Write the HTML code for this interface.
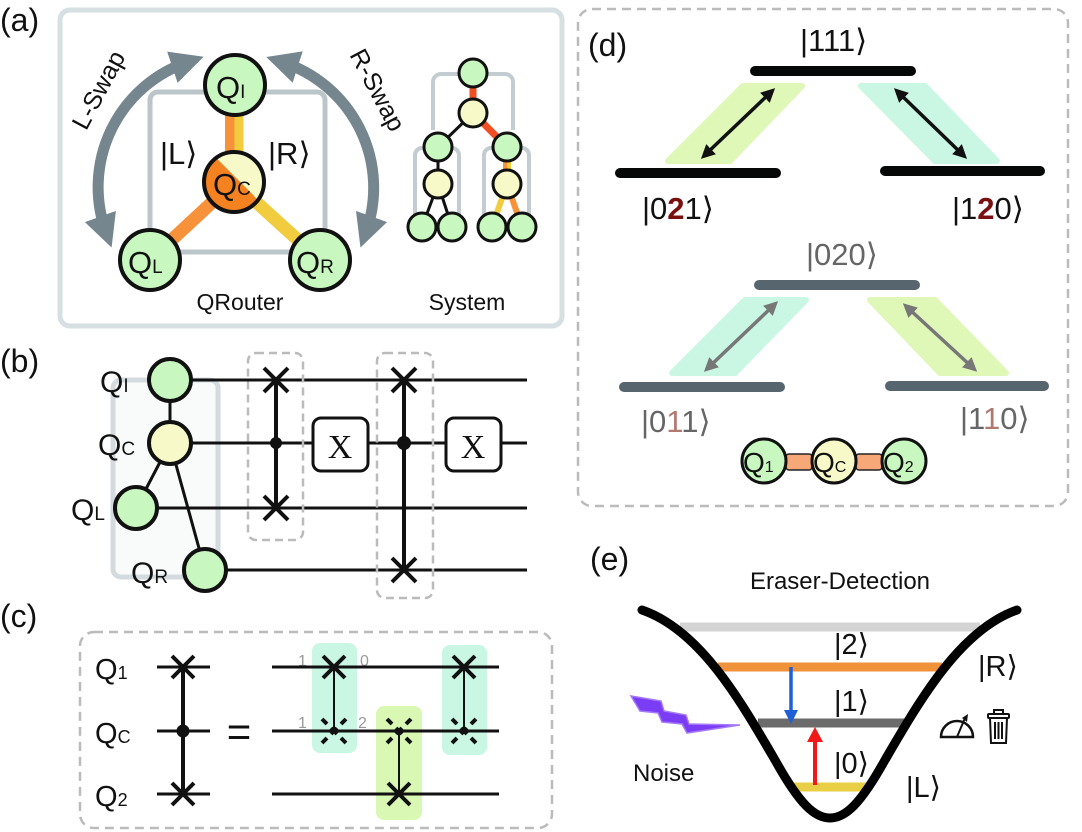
<!DOCTYPE html>
<html><head><meta charset="utf-8"><style>
html,body{margin:0;padding:0;background:#fff;}
svg{display:block;font-family:"Liberation Sans",sans-serif;}
</style></head><body>
<svg width="1082" height="832" viewBox="0 0 1082 832" xmlns="http://www.w3.org/2000/svg">
<defs>
<marker id="ah" markerWidth="3" markerHeight="3" refX="1.5" refY="1.5" orient="auto-start-reverse" markerUnits="strokeWidth"><path d="M0,0 L3,1.5 L0,3 Z" fill="#76868e"/></marker>
<marker id="ab" markerWidth="4" markerHeight="4" refX="2" refY="2" orient="auto-start-reverse" markerUnits="strokeWidth"><path d="M0,0 L4,2 L0,4 Z" fill="#111"/></marker>
<marker id="ag" markerWidth="4" markerHeight="4" refX="2" refY="2" orient="auto-start-reverse" markerUnits="strokeWidth"><path d="M0,0 L4,2 L0,4 Z" fill="#777"/></marker>
<linearGradient id="qc" x1="0" y1="1" x2="1" y2="0"><stop offset="0.55" stop-color="#f58220"/><stop offset="0.55" stop-color="#f7f9c8"/></linearGradient>
</defs>

<!-- panel labels -->
<g font-size="32" fill="#111">
<text x="0" y="31">(a)</text>
<text x="0" y="372">(b)</text>
<text x="0" y="627">(c)</text>
<text x="588" y="56">(d)</text>
<text x="590" y="570">(e)</text>
</g>

<!-- (a) -->
<rect x="60" y="10" width="502" height="316" rx="10" fill="none" stroke="#d6dfe2" stroke-width="5"/>
<rect x="150" y="92" width="175" height="160" rx="8" fill="none" stroke="#bcc6ca" stroke-width="5"/>
<path d="M188,62 A132,132 0 0 0 106,232" fill="none" stroke="#76868e" stroke-width="11" marker-start="url(#ah)" marker-end="url(#ah)"/>
<path d="M282,62 A132,132 0 0 1 366,232" fill="none" stroke="#76868e" stroke-width="11" marker-start="url(#ah)" marker-end="url(#ah)"/>
<text x="0" y="0" font-size="25" fill="#111" text-anchor="middle" transform="translate(106,94) rotate(-62)">L-Swap</text>
<text x="0" y="0" font-size="25" fill="#111" text-anchor="middle" transform="translate(370,94) rotate(62)">R-Swap</text>
<line x1="230" y1="115" x2="230" y2="155" stroke="#f7923a" stroke-width="10"/>
<line x1="239" y1="115" x2="239" y2="155" stroke="#f2cc3f" stroke-width="9"/>
<line x1="150" y1="260" x2="234" y2="182" stroke="#f7923a" stroke-width="13"/>
<line x1="320" y1="260" x2="234" y2="182" stroke="#f2cc3f" stroke-width="13"/>
<g stroke="#111" stroke-width="4">
<circle cx="235" cy="85" r="30" fill="#c8f7c0"/>
<circle cx="234" cy="182" r="30" fill="url(#qc)"/>
<circle cx="150" cy="260" r="30" fill="#c8f7c0"/>
<circle cx="320" cy="260" r="30" fill="#c8f7c0"/>
</g>
<g fill="#111">
<text x="216" y="98" font-size="31">Q<tspan font-size="19">I</tspan></text>
<text x="213" y="195" font-size="31">Q<tspan font-size="19">C</tspan></text>
<text x="128" y="273" font-size="31">Q<tspan font-size="19">L</tspan></text>
<text x="296" y="273" font-size="31">Q<tspan font-size="19">R</tspan></text>
<text x="160" y="164" font-size="31">|L⟩</text>
<text x="268" y="164" font-size="31">|R⟩</text>
<text x="240" y="310" font-size="23" text-anchor="middle">QRouter</text>
<text x="467" y="310" font-size="23" text-anchor="middle">System</text>
</g>
<g fill="none" stroke="#c3ccd0" stroke-width="4">
<path d="M433,130 V82 a8,8 0 0 1 8,-8 H505 a8,8 0 0 1 8,8 V130"/>
<path d="M415,215 V155 a7,7 0 0 1 7,-7 H452 a7,7 0 0 1 7,7 V215"/>
<path d="M484,215 V155 a7,7 0 0 1 7,-7 H522 a7,7 0 0 1 7,7 V215"/>
</g>
<line x1="473" y1="73" x2="473" y2="113" stroke="#f04e23" stroke-width="7"/>
<line x1="473" y1="113" x2="507" y2="147" stroke="#f04e23" stroke-width="7"/>
<line x1="505" y1="147" x2="505" y2="184" stroke="#f7923a" stroke-width="4"/>
<line x1="509" y1="147" x2="509" y2="184" stroke="#f2cc3f" stroke-width="4"/>
<line x1="507" y1="184" x2="492" y2="227" stroke="#f2cc3f" stroke-width="6"/>
<line x1="507" y1="184" x2="522" y2="227" stroke="#f7923a" stroke-width="6"/>
<g stroke="#111" stroke-width="3">
<line x1="473" y1="113" x2="438" y2="147"/>
<line x1="438" y1="147" x2="438" y2="184"/>
<line x1="438" y1="184" x2="422" y2="227"/>
<line x1="438" y1="184" x2="452" y2="227"/>
<circle cx="473" cy="73" r="14" fill="#c8f7c0"/>
<circle cx="473" cy="113" r="14" fill="#f7f9c8"/>
<circle cx="438" cy="147" r="14" fill="#c8f7c0"/>
<circle cx="507" cy="147" r="14" fill="#c8f7c0"/>
<circle cx="438" cy="184" r="14" fill="#f7f9c8"/>
<circle cx="507" cy="184" r="14" fill="#f7f9c8"/>
<circle cx="422" cy="227" r="14" fill="#c8f7c0"/>
<circle cx="452" cy="227" r="14" fill="#c8f7c0"/>
<circle cx="492" cy="227" r="14" fill="#c8f7c0"/>
<circle cx="522" cy="227" r="14" fill="#c8f7c0"/>
</g>

<!-- (b) -->
<rect x="113" y="380" width="105" height="197" rx="8" fill="#f9fbfb" stroke="#d3dbde" stroke-width="5"/>
<g stroke="#111" stroke-width="3">
<line x1="170" y1="380" x2="527" y2="380"/>
<line x1="170" y1="443" x2="527" y2="443"/>
<line x1="136" y1="508" x2="527" y2="508"/>
<line x1="205" y1="570" x2="527" y2="570"/>
<line x1="170" y1="380" x2="170" y2="443"/>
<line x1="170" y1="443" x2="136" y2="508"/>
<line x1="170" y1="443" x2="205" y2="570"/>
<circle cx="170" cy="380" r="21" fill="#c8f7c0" stroke-width="4"/>
<circle cx="170" cy="443" r="21" fill="#f7f9c8" stroke-width="4"/>
<circle cx="136" cy="508" r="21" fill="#c8f7c0" stroke-width="4"/>
<circle cx="205" cy="570" r="21" fill="#c8f7c0" stroke-width="4"/>
</g>
<g fill="#111">
<text x="100" y="392" font-size="30">Q<tspan font-size="19">I</tspan></text>
<text x="98" y="455" font-size="30">Q<tspan font-size="19">C</tspan></text>
<text x="71" y="520" font-size="30">Q<tspan font-size="19">L</tspan></text>
<text x="131" y="583" font-size="30">Q<tspan font-size="19">R</tspan></text>
</g>
<g fill="none" stroke="#bbb" stroke-width="2.5" stroke-dasharray="8,5">
<rect x="248" y="353" width="55" height="187" rx="8"/>
<rect x="377" y="353" width="56" height="245" rx="8"/>
</g>
<g stroke="#111" stroke-width="4">
<line x1="276" y1="380" x2="276" y2="508"/>
<path d="M264,368 L288,392 M288,368 L264,392"/>
<path d="M264,496 L288,520 M288,496 L264,520"/>
<circle cx="276" cy="443" r="4" fill="#111"/>
<line x1="404" y1="380" x2="404" y2="570"/>
<path d="M392,368 L416,392 M416,368 L392,392"/>
<path d="M392,558 L416,582 M416,558 L392,582"/>
<circle cx="404" cy="443" r="5" fill="#111"/>
<rect x="313" y="418" width="55" height="53" rx="8" fill="#fff" stroke-width="3"/>
<rect x="446" y="418" width="55" height="53" rx="8" fill="#fff" stroke-width="3"/>
</g>
<text x="340" y="458" font-size="34" font-family="Liberation Serif,serif" text-anchor="middle" fill="#111">X</text>
<text x="473" y="458" font-size="34" font-family="Liberation Serif,serif" text-anchor="middle" fill="#111">X</text>

<!-- (c) -->
<rect x="80" y="632" width="472" height="196" rx="14" fill="none" stroke="#bbb" stroke-width="2.5" stroke-dasharray="9,6"/>
<rect x="312" y="643" width="45" height="110" rx="8" fill="#c9f7e3"/>
<rect x="376" y="706" width="46" height="114" rx="8" fill="#d8f8b4"/>
<rect x="442" y="645" width="45" height="110" rx="8" fill="#c9f7e3"/>
<g fill="#111">
<text x="95" y="679" font-size="29">Q<tspan font-size="18">1</tspan></text>
<text x="95" y="743" font-size="29">Q<tspan font-size="18">C</tspan></text>
<text x="95" y="806" font-size="29">Q<tspan font-size="18">2</tspan></text>
<text x="239" y="746" font-size="42" text-anchor="middle">=</text>
</g>
<g fill="#999" font-size="16">
<text x="298" y="666">1</text><text x="360" y="666">0</text>
<text x="298" y="728">1</text><text x="358" y="728">2</text>
</g>
<g stroke="#111" stroke-width="3">
<line x1="157" y1="667" x2="210" y2="667"/>
<line x1="157" y1="731" x2="210" y2="731"/>
<line x1="157" y1="794" x2="210" y2="794"/>
<line x1="272" y1="667" x2="499" y2="667"/>
<line x1="272" y1="731" x2="499" y2="731"/>
<line x1="272" y1="794" x2="499" y2="794"/>
<line x1="183" y1="667" x2="183" y2="794" stroke-width="4"/>
<circle cx="183" cy="731" r="5" fill="#111"/>
<path d="M172,656 L194,678 M194,656 L172,678 M172,783 L194,805 M194,783 L172,805" stroke-width="4"/>
<line x1="334" y1="667" x2="334" y2="731" stroke-width="2"/>
<line x1="399" y1="731" x2="399" y2="794" stroke-width="2"/>
<line x1="464" y1="667" x2="464" y2="731" stroke-width="2"/>
<path d="M323,656 L345,678 M345,656 L323,678 M388,783 L410,805 M410,783 L388,805 M453,656 L475,678 M475,656 L453,678" stroke-width="4"/>
<g stroke-width="4">
<path d="M322,719 L327,724 M341,738 L346,743 M346,719 L341,724 M327,738 L322,743 M331,728 L337,734 M337,728 L331,734"/>
<path d="M387,719 L392,724 M406,738 L411,743 M411,719 L406,724 M392,738 L387,743 M396,728 L402,734 M402,728 L396,734"/>
<path d="M452,719 L457,724 M471,738 L476,743 M476,719 L471,724 M457,738 L452,743 M461,728 L467,734 M467,728 L461,734"/>
</g>
</g>

<!-- (d) -->
<rect x="578" y="9" width="490" height="497" rx="14" fill="none" stroke="#bbb" stroke-width="2.5" stroke-dasharray="9,6"/>
<path d="M743,86 H802 L730,161 H668 Z" fill="#dff8b8" stroke="#dff8b8" stroke-width="6" stroke-linejoin="round"/>
<path d="M861,86 H925 L997,161 H935 Z" fill="#c9f7e3" stroke="#c9f7e3" stroke-width="6" stroke-linejoin="round"/>
<path d="M745,300 H806 L735,373 H672 Z" fill="#c9f7e3" stroke="#c9f7e3" stroke-width="6" stroke-linejoin="round"/>
<path d="M870,300 H935 L1006,373 H940 Z" fill="#dff8b8" stroke="#dff8b8" stroke-width="6" stroke-linejoin="round"/>
<g stroke-linecap="round" stroke-width="10">
<line x1="755" y1="71" x2="911" y2="71" stroke="#050807"/>
<line x1="620" y1="173" x2="776" y2="173" stroke="#050807"/>
<line x1="885" y1="171" x2="1040" y2="171" stroke="#050807"/>
<line x1="759" y1="285" x2="915" y2="285" stroke="#56656e"/>
<line x1="624" y1="387" x2="780" y2="387" stroke="#56656e"/>
<line x1="890" y1="386" x2="1044" y2="386" stroke="#56656e"/>
</g>
<line x1="770" y1="93" x2="706" y2="154" stroke="#111" stroke-width="3.5" marker-start="url(#ab)" marker-end="url(#ab)"/>
<line x1="899" y1="93" x2="962" y2="154" stroke="#111" stroke-width="3.5" marker-start="url(#ab)" marker-end="url(#ab)"/>
<line x1="773" y1="306" x2="709" y2="367" stroke="#777" stroke-width="3.5" marker-start="url(#ag)" marker-end="url(#ag)"/>
<line x1="908" y1="308" x2="972" y2="367" stroke="#777" stroke-width="3.5" marker-start="url(#ag)" marker-end="url(#ag)"/>
<g font-size="31">
<text x="800" y="51" fill="#111">|111⟩</text>
<text x="642" y="219" fill="#111">|0<tspan fill="#7a0f0f" font-weight="bold">2</tspan>1⟩</text>
<text x="952" y="219" fill="#111">|1<tspan fill="#7a0f0f" font-weight="bold">2</tspan>0⟩</text>
<text x="806" y="265" fill="#666">|020⟩</text>
<text x="641" y="432" fill="#666">|0<tspan fill="#b07a70">1</tspan>1⟩</text>
<text x="960" y="429" fill="#666">|1<tspan fill="#b07a70">1</tspan>0⟩</text>
</g>
<rect x="786" y="454" width="26" height="16" rx="3" fill="#f7a878" stroke="#222" stroke-width="1.5"/>
<rect x="856" y="454" width="26" height="16" rx="3" fill="#f7a878" stroke="#222" stroke-width="1.5"/>
<g stroke="#111" stroke-width="3">
<circle cx="764" cy="461" r="22" fill="#c8f7c0"/>
<circle cx="834" cy="461" r="22" fill="#f7f9c8"/>
<circle cx="904" cy="461" r="22" fill="#c8f7c0"/>
</g>
<g fill="#111">
<text x="743" y="472" font-size="28">Q<tspan font-size="16">1</tspan></text>
<text x="813" y="472" font-size="28">Q<tspan font-size="16">C</tspan></text>
<text x="883" y="472" font-size="28">Q<tspan font-size="16">2</tspan></text>
</g>

<!-- (e) -->
<text x="840" y="589" font-size="24" text-anchor="middle" fill="#111">Eraser-Detection</text>
<line x1="680" y1="627" x2="980" y2="627" stroke="#d4d4d4" stroke-width="9"/>
<line x1="718" y1="667" x2="942" y2="667" stroke="#f0923a" stroke-width="9"/>
<line x1="758" y1="723" x2="905" y2="723" stroke="#6b6b6b" stroke-width="9"/>
<line x1="794" y1="787" x2="868" y2="787" stroke="#e8cf45" stroke-width="9"/>
<path d="M642,610 C700,630 740,700 775,760 C800,805 815,818 830,818 C845,818 860,805 885,760 C920,700 960,630 1017,610" fill="none" stroke="#000" stroke-width="9" stroke-linecap="round"/>
<line x1="791" y1="667" x2="791" y2="712" stroke="#1f5fd6" stroke-width="3.5"/>
<path d="M784,710 L798,710 L791,724 Z" fill="#1f5fd6"/>
<line x1="815" y1="785" x2="815" y2="740" stroke="#f01818" stroke-width="4"/>
<path d="M807,742 L823,742 L815,727 Z" fill="#f01818"/>
<path d="M631,696 L661,701 L664,711 L686,715 L689,724 L740,725 L687,733 L682,724 L662,722 L658,713 L640,711 Z" fill="#7b3cf5" stroke="#a57af8" stroke-width="1.5"/>
<g font-size="29" fill="#111">
<text x="834" y="654">|2⟩</text>
<text x="834" y="711">|1⟩</text>
<text x="834" y="773">|0⟩</text>
<text x="978" y="676">|R⟩</text>
<text x="906" y="797">|L⟩</text>
</g>
<text x="633" y="781" font-size="24" fill="#111">Noise</text>
<path d="M941,737 A16,16 0 0 1 973,737 Z" fill="none" stroke="#111" stroke-width="2.5"/>
<line x1="957" y1="737" x2="965" y2="718" stroke="#111" stroke-width="2"/>
<path d="M962,718 L968,714 L967,722 Z" fill="#111"/>
<g fill="none" stroke="#111" stroke-width="2">
<rect x="988" y="714" width="21" height="4" rx="1"/>
<path d="M994,714 V710 H1003 V714"/>
<path d="M990,718 L991,743 H1006 L1007,718"/>
<line x1="995" y1="722" x2="995" y2="739"/>
<line x1="998.5" y1="722" x2="998.5" y2="739"/>
<line x1="1002" y1="722" x2="1002" y2="739"/>
</g>
</svg>
</body></html>
